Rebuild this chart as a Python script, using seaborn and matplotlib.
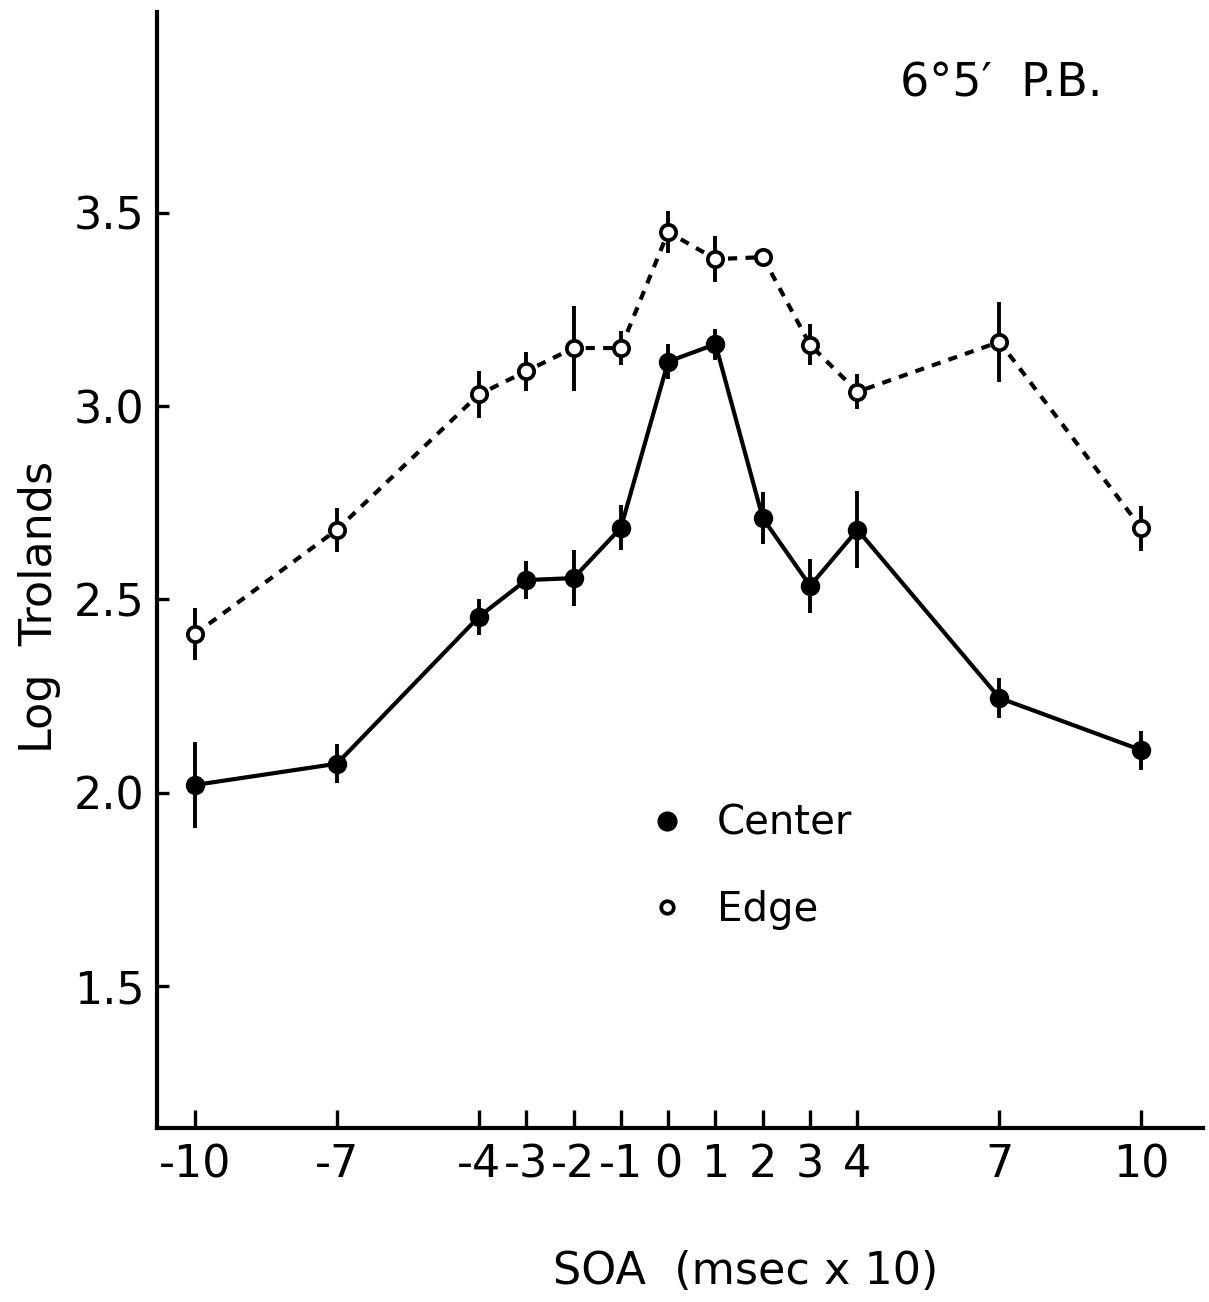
import matplotlib
matplotlib.use("Agg")
import matplotlib.pyplot as plt
import seaborn as sns
import pandas as pd
from matplotlib.lines import Line2D

# ---- data ----
soa = [-10, -7, -4, -3, -2, -1, 0, 1, 2, 3, 4, 7, 10]
center = [2.02, 2.075, 2.455, 2.55, 2.555, 2.685, 3.115, 3.16, 2.71, 2.535, 2.68, 2.245, 2.11]
center_err = [0.11, 0.05, 0.046, 0.05, 0.072, 0.058, 0.045, 0.04, 0.068, 0.07, 0.10, 0.053, 0.05]
edge = [2.41, 2.68, 3.03, 3.09, 3.15, 3.15, 3.45, 3.38, 3.385, 3.158, 3.037, 3.166, 2.684]
edge_err = [0.068, 0.057, 0.06, 0.05, 0.11, 0.045, 0.055, 0.06, 0.0, 0.053, 0.045, 0.103, 0.058]
x_tick_labels = ["-10", "-7", "-4", "-3", "-2", "-1", "0", "1", "2", "3", "4", "7", "10"]
y_ticks = [1.5, 2.0, 2.5, 3.0, 3.5]
y_tick_labels = ["1.5", "2.0", "2.5", "3.0", "3.5"]
series_labels = ["Center", "Edge"]
annotation = "6°5′  P.B."
x_label = "SOA  (msec x 10)"
y_label = "Log  Trolands"

sns.set_theme(style="ticks")
plt.rcParams["font.family"] = ["DejaVu Sans"]
plt.rcParams["text.color"] = "black"

W, H = 1209, 1302
fig = plt.figure(figsize=(W / 100, H / 100), dpi=100)
fig.patch.set_facecolor("white")
L, R, T, B = 157, 1203, 12, 1128
ax = fig.add_axes([L / W, 1 - B / H, (R - L) / W, (B - T) / H])
ax.set_facecolor("white")

df_c = pd.DataFrame({"soa": soa, "val": center})
df_e = pd.DataFrame({"soa": soa, "val": edge})

# error bars (behind markers)
ax.errorbar(soa, center, yerr=center_err, fmt="none", ecolor="black",
            elinewidth=2.8, capsize=0, zorder=2)
ax.errorbar(soa, edge, yerr=edge_err, fmt="none", ecolor="black",
            elinewidth=2.8, capsize=0, zorder=2)

sns.lineplot(data=df_c, x="soa", y="val", ax=ax, color="black", linewidth=3.0,
             marker="o", markersize=12.5, markeredgewidth=1.5,
             markerfacecolor="black", markeredgecolor="black",
             errorbar=None, zorder=3)
sns.lineplot(data=df_e, x="soa", y="val", ax=ax, color="black", linewidth=3.0,
             linestyle=(0, (2.2, 2.0)),
             marker="o", markersize=11, markeredgewidth=2.7,
             markerfacecolor="white", markeredgecolor="black",
             errorbar=None, zorder=3)

ax.set_xlim(-10.80, 11.30)
ax.set_ylim(1.133, 4.019)
ax.set_xticks(soa, labels=x_tick_labels)
ax.set_yticks(y_ticks, labels=y_tick_labels)
ax.tick_params(axis="y", direction="in", length=8.5, width=2.4, pad=9,
               labelsize=32, colors="black")
ax.tick_params(axis="x", direction="in", length=13, width=2.4, pad=11,
               labelsize=32, colors="black")

sns.despine(ax=ax)
for s in ["left", "bottom"]:
    ax.spines[s].set_linewidth(3.0)
    ax.spines[s].set_color("black")

ax.set_xlabel(x_label, fontsize=32, color="black")
ax.set_ylabel(y_label, fontsize=32, color="black")
ax.xaxis.set_label_coords((746 - L) / (R - L), (B - 1272) / (B - T))
ax.xaxis.label.set_va("center")
ax.yaxis.set_label_coords((40 - L) / (R - L), (B - 607) / (B - T))
ax.yaxis.label.set_va("center")

ax.text((1001 - L) / (R - L), (B - 84) / (B - T), annotation,
        transform=ax.transAxes, ha="center", va="center", fontsize=33,
        color="black")

handles = [
    Line2D([], [], linestyle="none", marker="o", markersize=13,
           markerfacecolor="black", markeredgecolor="black", markeredgewidth=1.5),
    Line2D([], [], linestyle="none", marker="o", markersize=9,
           markerfacecolor="white", markeredgecolor="black", markeredgewidth=2.7),
]
leg = ax.legend(handles, series_labels, loc="center left",
                bbox_to_anchor=((647 - L) / (R - L), (B - 867) / (B - T)),
                frameon=False, fontsize=29, handlelength=1.0, handletextpad=0.73,
                labelspacing=1.15, borderpad=0, borderaxespad=0)
for t in leg.get_texts():
    t.set_color("black")

fig.savefig("out.png", dpi=100, facecolor="white")
